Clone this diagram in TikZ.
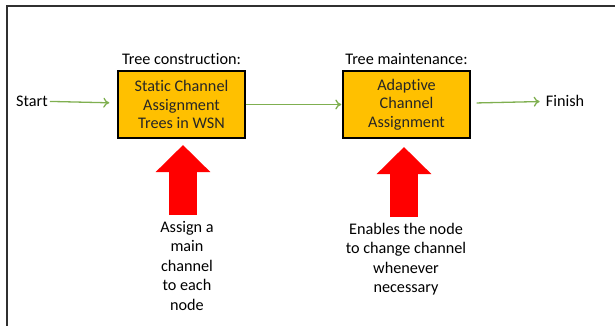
\documentclass[tikz,border=0pt]{standalone}
\usepackage{fontspec}
\setmainfont{Carlito}[Ligatures = NoCommon]
\usetikzlibrary{arrows.meta}
\usetikzlibrary{positioning}
\definecolor{boxorange}{HTML}{FFC000}
\definecolor{flowgreen}{HTML}{7FAF50}
\definecolor{framegray}{HTML}{303030}
\tikzset{stage/.style = {draw = black, line width = 1.4pt, fill = boxorange, minimum width = 127pt, minimum height = 67pt, align = center, text = black!85, font = \fontsize{16.2}{18.5}\selectfont, inner sep = 0}}
\tikzset{flow/.style = {draw = flowgreen, line width = 1.3pt, -{To[length = 6pt, width = 10pt]}}}
\tikzset{push/.style = {draw = red, line width = 28pt, -{Triangle[length = 27pt, width = 53pt]}}}
\tikzset{txt/.style = {font = \fontsize{16.2}{19.5}\selectfont, align = center, inner sep = 2pt}}

\begin{document}
\begin{tikzpicture}[x = 1pt, y = -1pt]
    \useasboundingbox (0, 0) rectangle (615, 326);
    \draw [framegray, line width = 1.6pt] (615, 6) -- (7, 6) -- (7, 326);

    \node [stage] (construct) at (181.5, 104.5) {Static Channel\\Assignment\\Trees in WSN};
    \node [stage] (maintain) at (406.5, 104.5) {Adaptive\\Channel\\Assignment};
    \node [txt, above = 3pt of construct] (constructlbl) {Tree construction:};
    \node [txt, above = 3pt of maintain] (maintainlbl) {Tree maintenance:};

    \node [txt] (start) at (32, 101) {Start};
    \node [txt] (finish) at (565, 101) {Finish};

    \node [txt, anchor = north] (note1) at (187, 219) {Assign a\\main\\channel\\to each\\node};
    \node [txt, anchor = north] (note2) at (406, 221) {Enables the node\\to change channel\\whenever\\necessary};

    \draw [flow, shorten > = 8pt] (start) -- (construct);
    \draw [flow, shorten > = 1pt] (construct) -- (maintain);
    \draw [flow, shorten < = 6pt, shorten > = 4pt] (maintain) -- (finish);

    \draw [push] (183, 215) -- (183, 145);
    \draw [push] (404, 217) -- (404, 147);
  \end{tikzpicture}
\end{document}
